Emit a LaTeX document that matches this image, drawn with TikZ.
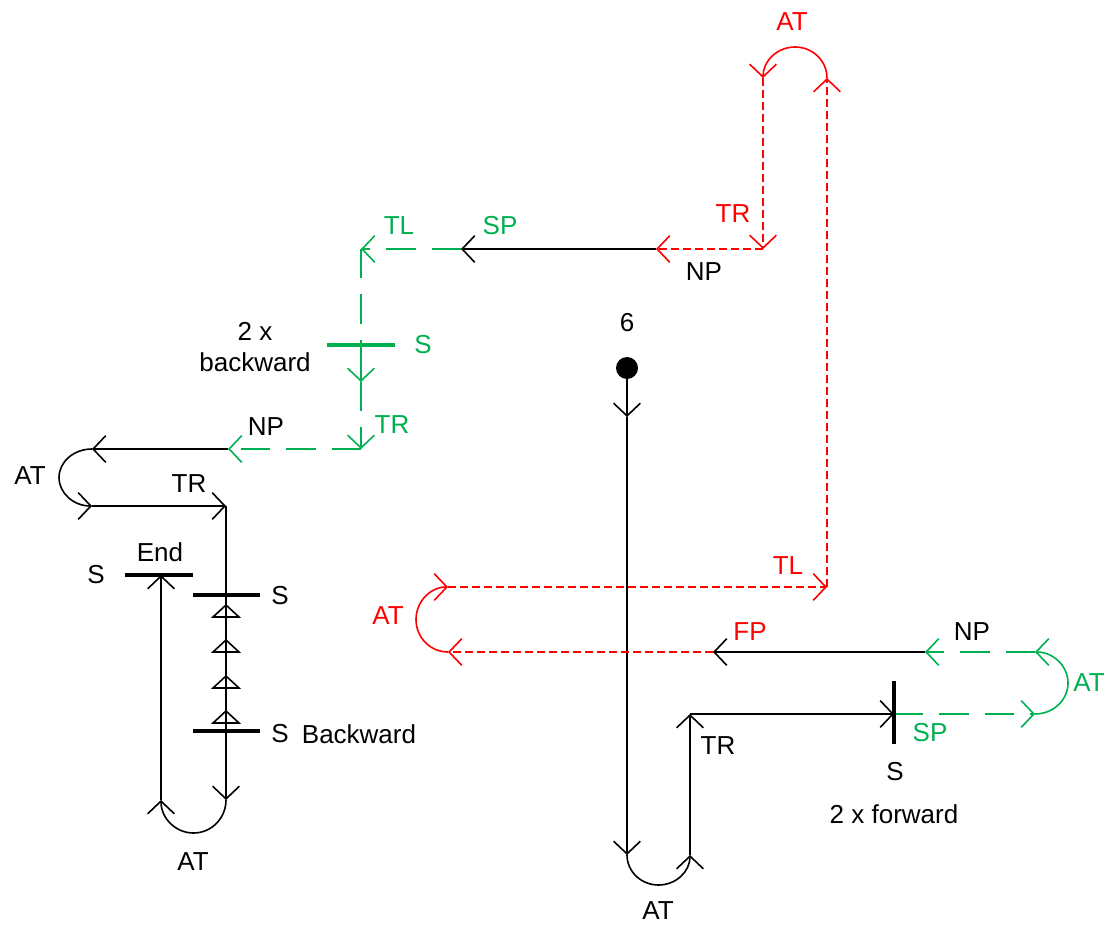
\documentclass[tikz,border=0pt]{standalone}
\usepackage{fontspec}
\setmainfont{Liberation Sans}
\usepackage{xcolor}
\usetikzlibrary{arrows.meta}
\definecolor{Route}{HTML}{FF0000}
\definecolor{Detour}{HTML}{00B050}

\begin{document}
\begin{tikzpicture}[x=0.75pt,y=-0.75pt,
  solidrun/.style={black,line width=1.2pt},
  dashred/.style={Route,line width=1.2pt,dash pattern=on 6pt off 3pt},
  dashgreen/.style={Detour,line width=1.2pt,dash pattern=on 22pt off 12pt},
  tip/.style={-{Straight Barb[length=9.5pt,width=20pt]}},
  stopbar/.style={line width=2.3pt},
  lbl/.style={inner sep=0pt,font=\fontsize{19.5}{23}\selectfont}]
\useasboundingbox (0,0) rectangle (1109,924);
% start point
\node[circle,fill=black,inner sep=0pt,minimum size=16.5pt] (start) at (627,368) {};
\node[lbl] (six) at (627,323) {6};
% track points
\coordinate (p1) at (627,417);
\coordinate (p2) at (627,855);
\coordinate (p3) at (690,855);
\coordinate (p4) at (690,714);
\coordinate (p5) at (894,714);
\coordinate (p6) at (1035,714);
\coordinate (p7) at (1035,652);
\coordinate (p8) at (925,652);
\coordinate (p9) at (713,652);
\coordinate (p10) at (448,652);
\coordinate (p11) at (448,587);
\coordinate (p12) at (827,587);
\coordinate (p13) at (827,78);
\coordinate (p14) at (763,78);
\coordinate (p15) at (763,249);
\coordinate (p16) at (656,249);
\coordinate (p17) at (461,249);
\coordinate (p18) at (361,249);
\coordinate (p19) at (361,345);
\coordinate (p20) at (361,382);
\coordinate (p21) at (361,449);
\coordinate (p22) at (228,449);
\coordinate (p23) at (92,449);
\coordinate (p24) at (92,506);
\coordinate (p25) at (226,506);
\coordinate (p26) at (226,800);
\coordinate (p27) at (161,800);
\coordinate (p28) at (161,575);
% run
\draw[solidrun,tip] (start) -- (p1);
\draw[solidrun,tip] (p1) -- (p2);
\draw[solidrun,tip] (p2) arc[start angle=180,end angle=0,x radius=31.5,y radius=30];
\draw[solidrun,tip] (p3) -- (p4);
\draw[solidrun,tip] (p4) -- (p5);
\draw[dashgreen,tip] (p5) -- (p6);
\draw[Detour,line width=1.2pt,tip] (p6) arc[start angle=90,end angle=-90,x radius=33,y radius=31];
\draw[dashgreen,tip] (p7) -- (p8);
\draw[solidrun,tip] (p8) -- (p9);
\draw[dashred,tip] (p9) -- (p10);
\draw[Route,line width=1.2pt,tip] (p10) arc[start angle=90,end angle=270,x radius=32,y radius=32.5];
\draw[dashred,tip] (p11) -- (p12);
\draw[dashred,tip] (p12) -- (p13);
\draw[Route,line width=1.2pt,tip] (p13) arc[start angle=0,end angle=-180,x radius=32,y radius=31];
\draw[dashred,tip] (p14) -- (p15);
\draw[dashred,tip] (p15) -- (p16);
\draw[solidrun,tip] (p16) -- (p17);
\draw[dashgreen,tip] (p17) -- (p18);
\draw[dashgreen] (p18) -- (p19);
\draw[Detour,line width=1.2pt,tip] (p19) -- (p20);
\draw[dashgreen,tip] (p20) -- (p21);
\draw[dashgreen,tip] (p21) -- (p22);
\draw[solidrun,tip] (p22) -- (p23);
\draw[solidrun,tip] (p23) arc[start angle=270,end angle=90,x radius=33,y radius=28.5];
\draw[solidrun,tip] (p24) -- (p25);
\draw[solidrun,tip] (p25) -- (p26);
\draw[solidrun,tip] (p26) arc[start angle=0,end angle=180,x radius=32.5,y radius=33];
\draw[solidrun,tip] (p27) -- (p28);
% stop bars
\draw[stopbar] (125,575) -- (193,575);
\draw[stopbar] (193,595) -- (260,595);
\draw[stopbar] (193,731) -- (260,731);
\draw[stopbar,Detour] (327,345) -- (395,345);
\draw[stopbar] (894,681) -- (894,744);
% backward marks
\foreach \ty in {617,652,688,723}
  \draw[line width=1.2pt] (213,\ty) -- (226,\ty-12) -- (239,\ty) -- cycle;
% labels
\node[lbl] (atB) at (658,911) {AT};
\node[lbl] (trB) at (718,746) {TR};
\node[lbl] (sB) at (895,772) {S};
\node[lbl] (fwd) at (894,814) {2 x forward};
\node[lbl,text=Detour] (spB) at (930,733) {SP};
\node[lbl,text=Detour] (atR) at (1089,683) {AT};
\node[lbl] (npR) at (972,632) {NP};
\node[lbl,text=Route] (fpR) at (750,632) {FP};
\node[lbl,text=Route] (atL) at (388,616) {AT};
\node[lbl,text=Route] (tlR) at (788,566) {TL};
\node[lbl,text=Route] (atT) at (792,22) {AT};
\node[lbl,text=Route] (trT) at (733,214) {TR};
\node[lbl] (npT) at (704,272) {NP};
\node[lbl,text=Detour] (spT) at (500,226) {SP};
\node[lbl,text=Detour] (tlT) at (399,226) {TL};
\node[lbl,text=Detour] (sG) at (423,345) {S};
\node[lbl,align=center] (bwd) at (255,347) {2 x\\backward};
\node[lbl,text=Detour] (trG) at (392,425) {TR};
\node[lbl] (npL) at (266,427) {NP};
\node[lbl] (atW) at (30,476) {AT};
\node[lbl] (trW) at (189,484) {TR};
\node[lbl] (endS) at (160,552) {End};
\node[lbl] (sEnd) at (96,575) {S};
\node[lbl] (sTop) at (280,596) {S};
\node[lbl] (sLow) at (280,734) {S};
\node[lbl] (bwdL) at (359,734) {Backward};
\node[lbl] (atS) at (193,862) {AT};
\end{tikzpicture}
\end{document}
